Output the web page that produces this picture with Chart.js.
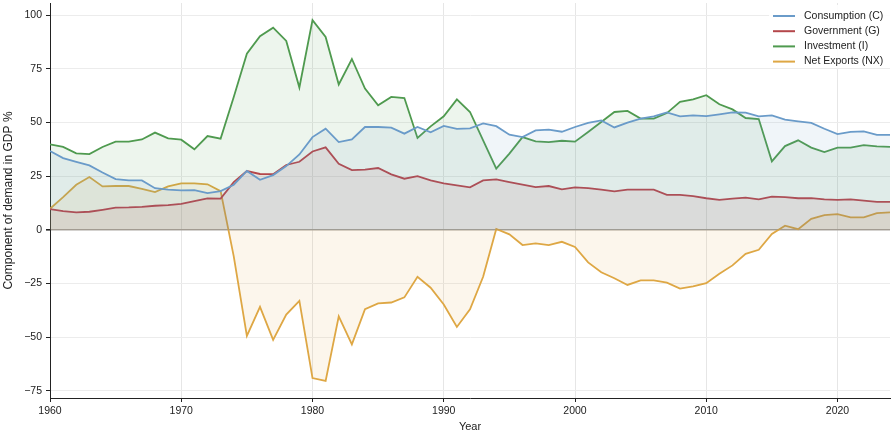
<!DOCTYPE html>
<html lang="en">
<head>
<meta charset="utf-8">
<title>Components of demand in GDP</title>
<script src="https://cdn.jsdelivr.net/npm/chart.js@4"></script>
<style>
  html, body { margin: 0; padding: 0; background: #fff; }
  #wrap { width: 891px; height: 434px; position: relative; }
</style>
</head>
<body>
<div id="wrap"><canvas id="chart"></canvas></div>
<script>
const years = [
  1960, 1961, 1962, 1963, 1964, 1965, 1966, 1967, 1968, 1969,
  1970, 1971, 1972, 1973, 1974, 1975, 1976, 1977, 1978, 1979,
  1980, 1981, 1982, 1983, 1984, 1985, 1986, 1987, 1988, 1989,
  1990, 1991, 1992, 1993, 1994, 1995, 1996, 1997, 1998, 1999,
  2000, 2001, 2002, 2003, 2004, 2005, 2006, 2007, 2008, 2009,
  2010, 2011, 2012, 2013, 2014, 2015, 2016, 2017, 2018, 2019,
  2020, 2021, 2022, 2023, 2024
];

const consumption = [
  36.7, 33.4, 31.7, 30.0, 26.7, 23.6, 23.0, 23.0, 19.4, 18.7,
  18.4, 18.5, 17.1, 18.0, 21.0, 27.4, 23.3, 25.5, 29.7, 35.1,
  43.2, 47.1, 40.9, 42.1, 47.9, 47.9, 47.6, 44.8, 47.9, 45.4,
  48.4, 47.0, 47.3, 49.6, 48.3, 44.3, 43.2, 46.3, 46.7, 45.7,
  47.9, 49.8, 51.0, 47.7, 49.9, 51.8, 52.9, 54.7, 52.9, 53.3,
  53.0, 53.8, 54.7, 54.6, 52.9, 53.3, 51.3, 50.5, 49.8, 47.1,
  44.6, 45.6, 45.9, 44.2, 44.2
];

const government = [
  9.6, 8.7, 8.1, 8.4, 9.3, 10.3, 10.4, 10.7, 11.2, 11.5,
  12.1, 13.4, 14.6, 14.5, 22.2, 27.4, 26.0, 25.9, 30.2, 31.7,
  36.5, 38.4, 30.8, 27.8, 28.0, 28.8, 25.8, 23.8, 25.0, 23.0,
  21.6, 20.7, 19.8, 23.0, 23.5, 22.2, 21.0, 19.9, 20.4, 18.8,
  19.8, 19.4, 18.7, 17.9, 18.7, 18.7, 18.7, 16.3, 16.3, 15.7,
  14.7, 13.9, 14.5, 15.0, 14.2, 15.5, 15.2, 14.7, 14.8, 14.2,
  13.9, 14.2, 13.6, 13.0, 13.0
];

const investment = [
  39.8, 38.6, 35.6, 35.3, 38.6, 41.1, 41.1, 42.1, 45.3, 42.6,
  42.0, 37.5, 43.7, 42.5, 61.9, 82.1, 90.2, 94.2, 88.0, 66.3,
  97.7, 89.9, 67.7, 79.6, 65.8, 58.0, 61.9, 61.4, 42.8, 48.2,
  52.9, 60.8, 54.9, 41.7, 28.5, 35.5, 43.2, 41.2, 40.9, 41.5,
  41.1, 45.6, 50.2, 54.9, 55.4, 51.8, 51.8, 54.4, 59.6, 60.8,
  62.7, 58.5, 56.1, 52.1, 51.6, 31.9, 39.0, 41.7, 38.3, 36.2,
  38.3, 38.3, 39.5, 38.9, 38.6
];

const netExports = [
  9.8, 15.2, 21.0, 24.6, 20.2, 20.4, 20.4, 19.1, 17.6, 20.2,
  21.6, 21.6, 21.2, 18.0, -12.4, -49.5, -35.9, -51.3, -39.5, -33.1,
  -69.1, -70.4, -40.3, -53.4, -37.0, -34.3, -33.9, -31.5, -21.9, -27.0,
  -34.8, -45.3, -37.1, -21.9, 0.4, -2.1, -7.1, -6.3, -7.1, -5.6,
  -8.0, -15.2, -19.8, -22.6, -25.7, -23.6, -23.6, -24.6, -27.4, -26.4,
  -24.9, -20.5, -16.6, -11.2, -9.3, -1.9, 1.9, 0.3, 5.1, 6.8,
  7.3, 5.8, 5.8, 7.8, 8.1
];

const seriesNames = ['Consumption (C)', 'Government (G)', 'Investment (I)', 'Net Exports (NX)'];
const xTicks = [1960, 1970, 1980, 1990, 2000, 2010, 2020];
const yTicks = [-75, -50, -25, 0, 25, 50, 75, 100];

const lineColors = ['#6a9bc9', '#b4474b', '#4f9a4f', '#dea744'];
const fillColors = [
  'rgba(106,155,201,0.10)',
  'rgba(180,71,75,0.10)',
  'rgba(79,154,79,0.10)',
  'rgba(222,167,68,0.10)'
];

const FONT = '"Liberation Sans", Arial, Helvetica, sans-serif';

function pts(vals) {
  return years.map((y, i) => ({ x: y, y: vals[i] }));
}

const allSeries = [consumption, government, investment, netExports];
const datasets = allSeries.map((vals, i) => ({
  label: seriesNames[i],
  data: pts(vals),
  borderColor: lineColors[i],
  backgroundColor: fillColors[i],
  borderWidth: 1.8,
  pointRadius: 0,
  tension: 0,
  fill: 'origin'
}));

// simple legend box drawn in the upper right corner of the plot
const cornerLegend = {
  id: 'cornerLegend',
  afterDraw(chart) {
    const ctx = chart.ctx;
    const area = chart.chartArea;
    const x0 = area.right - 121;
    const y0 = area.top + 2;
    ctx.save();
    ctx.fillStyle = 'rgba(255,255,255,0.9)';
    ctx.fillRect(x0, y0, 121, 63);
    ctx.font = '10.5px ' + FONT;
    ctx.textBaseline = 'middle';
    chart.data.datasets.forEach((ds, i) => {
      const cy = y0 + 11 + i * 15.2;
      ctx.strokeStyle = ds.borderColor;
      ctx.lineWidth = 2;
      ctx.beginPath();
      ctx.moveTo(x0 + 4, cy);
      ctx.lineTo(x0 + 26, cy);
      ctx.stroke();
      ctx.fillStyle = '#222';
      ctx.fillText(ds.label, x0 + 35, cy);
    });
    ctx.restore();
  }
};

new Chart(document.getElementById('chart'), {
  type: 'line',
  data: { datasets: datasets },
  plugins: [cornerLegend],
  options: {
    responsive: true,
    maintainAspectRatio: false,
    animation: false,
    layout: { padding: { top: 3, right: 1, left: 0, bottom: 0 } },
    plugins: {
      legend: { display: false },
      tooltip: { enabled: false }
    },
    scales: {
      x: {
        type: 'linear',
        min: 1960,
        max: 2024,
        afterBuildTicks: (scale) => { scale.ticks = xTicks.map(v => ({ value: v })); },
        afterFit: (scale) => {
          scale.height = 36;
          scale.paddingLeft = 0;
          scale.paddingRight = 0;
        },
        border: { display: true, color: '#222', width: 1 },
        grid: {
          color: (c) => c.tick && c.tick.value === 1960 ? 'rgba(0,0,0,0)' : '#e6e6e6',
          lineWidth: 1,
          drawTicks: true,
          tickLength: 4,
          tickColor: '#222'
        },
        ticks: {
          color: '#222',
          font: { family: FONT, size: 10.5 },
          padding: 3,
          maxRotation: 0,
          callback: (v) => String(v)
        },
        title: {
          display: true,
          text: 'Year',
          color: '#222',
          font: { family: FONT, size: 11 },
          padding: { top: 0, bottom: 0 }
        }
      },
      y: {
        min: -78.4,
        max: 105.7,
        afterBuildTicks: (scale) => { scale.ticks = yTicks.map(v => ({ value: v })); },
        afterFit: (scale) => {
          scale.width = 50;
          scale.paddingTop = 0;
          scale.paddingBottom = 0;
        },
        border: { display: true, color: '#222', width: 1 },
        grid: {
          color: (c) => c.tick && c.tick.value === 0 ? '#aaa59f' : '#ececec',
          lineWidth: (c) => c.tick && c.tick.value === 0 ? 1.6 : 1,
          drawTicks: true,
          tickLength: 4,
          tickColor: '#222'
        },
        ticks: {
          color: '#222',
          font: { family: FONT, size: 10.5 },
          padding: 4,
          callback: (v) => v < 0 ? '\u2212' + Math.abs(v) : String(v)
        },
        title: {
          display: true,
          text: 'Component of demand in GDP %',
          color: '#222',
          font: { family: FONT, size: 12 },
          padding: { top: 1, bottom: 0 }
        }
      }
    }
  }
});
</script>
</body>
</html>
